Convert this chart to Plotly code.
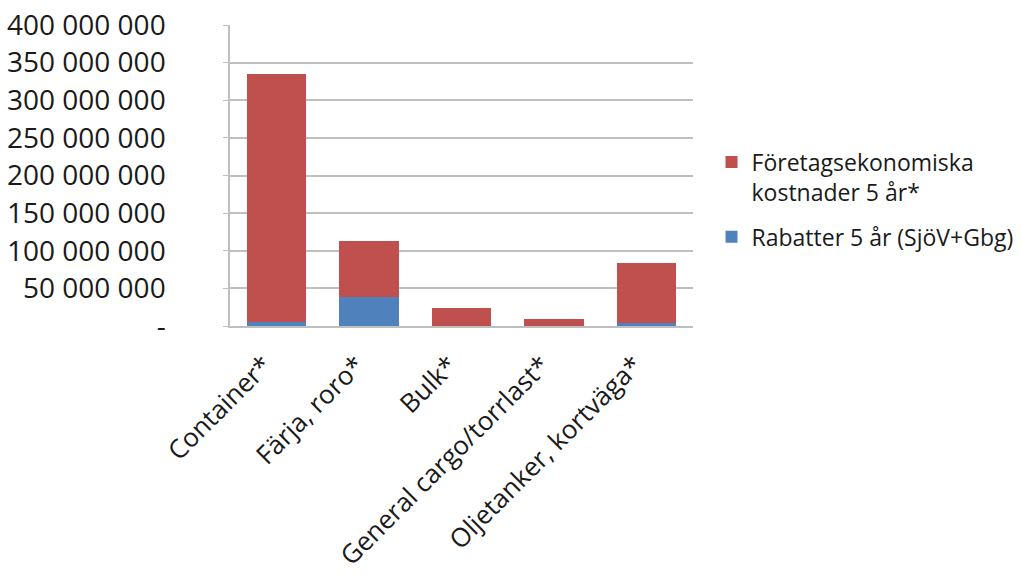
import plotly.graph_objects as go

categories = ["Container*", "Färja, roro*", "Bulk*", "General cargo/torrlast*", "Oljetanker, kortväga*"]
rabatter = [5_000_000, 39_000_000, 0, 0, 3_500_000]
foretagsek = [330_000_000, 74_500_000, 24_000_000, 9_000_000, 80_500_000]
ytick_vals = [0, 50e6, 100e6, 150e6, 200e6, 250e6, 300e6, 350e6, 400e6]
ytick_text = ["-", "50 000 000", "100 000 000", "150 000 000", "200 000 000",
              "250 000 000", "300 000 000", "350 000 000", "400 000 000"]

FONT = "Open Sans"

fig = go.Figure()
fig.add_trace(go.Bar(x=categories, y=rabatter, name="Rabatter 5 år (SjöV+Gbg)",
                     legendgroup="b", legendrank=2,
                     marker=dict(color="#4F81BD", line=dict(width=0))))
fig.add_trace(go.Bar(x=categories, y=foretagsek, name="Företagsekonomiska<br>kostnader 5 år*",
                     legendgroup="a", legendrank=1,
                     marker=dict(color="#C0504D", line=dict(width=0))))

fig.update_layout(
    width=1022, height=583,
    barmode="stack", bargap=0.36,
    paper_bgcolor="white", plot_bgcolor="white",
    margin=dict(l=230, r=329, t=25, b=257, autoexpand=False),
    font=dict(family=FONT, color="#1a1a1a"),
    legend=dict(x=1.04, y=0.42, xanchor="left", yanchor="middle",
                font=dict(size=23, family=FONT), traceorder="grouped",
                itemwidth=30, tracegroupgap=12, valign="top"),
    showlegend=True,
)
fig.update_yaxes(range=[0, 400e6], tickvals=ytick_vals, ticktext=ytick_text,
                 showgrid=True, gridcolor="#BFBFBF", gridwidth=1.5,
                 showline=True, linecolor="#BFBFBF", linewidth=1.5,
                 ticks="outside", ticklen=5, tickcolor="#BFBFBF",
                 tickfont=dict(size=28, family=FONT), ticklabelstandoff=52,
                 zeroline=False, automargin=False)
fig.update_xaxes(showline=True, linecolor="#BFBFBF", linewidth=1.5, mirror=False,
                 tickangle=-45, tickfont=dict(size=26, family=FONT),
                 ticks="", ticklabelstandoff=12, ticklabelshift=-12, automargin=False)

fig.write_html("out.html")
